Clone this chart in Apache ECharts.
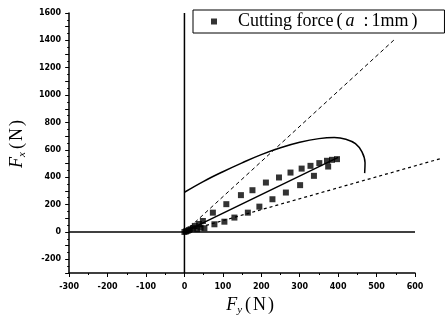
<!DOCTYPE html>
<html>
<head>
<meta charset="utf-8">
<script src="https://cdn.jsdelivr.net/npm/echarts@6/dist/echarts.min.js"></script>
<style>
html, body { margin: 0; padding: 0; background: #fff; }
#chart { width: 446px; height: 321px; }
</style>
</head>
<body>
<div id="chart"></div>
<script>
// Measured cutting force, a = 1 mm: Fy (N) against Fx (N)
const forceFy = [0, 4, 8, 12, 16, 22, 27, 33, 38, 42, 48, 52,
  74, 109, 147, 177, 212, 246, 276, 305, 328, 351, 371, 384, 397,
  78, 104, 130, 165, 195, 229, 264, 301, 337, 374];
const forceFx = [0, 4, 8, 14, 20, 28, 44, 20, 58, 32, 80, 27,
  141, 203, 269, 305, 361, 398, 434, 463, 483, 503, 520, 527, 532,
  56, 75, 105, 141, 185, 239, 288, 342, 410, 478];

// Fitted line through the measurements
const fitFy = [0, 400];
const fitFx = [0, 545];

// Upper limit line (dashed)
const upperFy = [0, 550];
const upperFx = [0, 1415];

// Lower limit line (dotted), continues past the end of the Fy axis
const lowerFy = [0, 665];
const lowerFx = [0, 535];

// Envelope curve
const envFy = [0, 50, 100, 150, 200, 250, 300, 350, 390, 420, 445, 462, 470, 469];
const envFx = [290, 370, 440, 505, 565, 615, 655, 682, 690, 678, 645, 585, 505, 430];

// Axis ranges
const fyRange = [-300, 600];
const fxRange = [-300, 1600];

const pairs = (xs, ys) => xs.map((x, i) => [x, ys[i]]);

const W = 446, gridLeft = 67, gridRight = 31, gridTop = 13, gridBottom = 48;
// second, wider grid with the same px-per-newton scale so the lower line can run on
const pxPerN = (W - gridLeft - gridRight) / (fyRange[1] - fyRange[0]);
const wideRight = W - gridLeft - (lowerFy[lowerFy.length - 1] - fyRange[0]) * pxPerN;

const serif = "'Liberation Serif', 'DejaVu Serif', serif";
const tickFont = { color: '#000', fontFamily: "'DejaVu Sans', sans-serif", fontWeight: 'bold', fontSize: 8 };

const titleRich = {
  f: { fontFamily: serif, fontStyle: 'italic', fontSize: 18, color: '#000', lineHeight: 22 },
  s: { fontFamily: serif, fontStyle: 'italic', fontSize: 11, color: '#000', verticalAlign: 'bottom', lineHeight: 22, padding: [0, 1, 0, 0] },
  p: { fontFamily: serif, fontSize: 18, color: '#000', lineHeight: 22, padding: [0, 2, 0, 2] },
  n: { fontFamily: serif, fontSize: 18, color: '#000', lineHeight: 22 }
};

const chart = echarts.init(document.getElementById('chart'), null, { renderer: 'canvas' });

chart.setOption({
  animation: false,
  backgroundColor: '#fff',
  grid: [
    { left: gridLeft, right: gridRight, top: gridTop, bottom: gridBottom },
    { left: gridLeft, right: wideRight, top: gridTop, bottom: gridBottom }
  ],
  legend: {
    data: ['Cutting force'],
    left: 193,
    top: 10,
    padding: [2, 27, 2, 18],
    borderColor: '#000',
    borderWidth: 1,
    borderRadius: 0,
    icon: 'rect',
    itemWidth: 6,
    itemHeight: 6,
    itemStyle: { color: '#000' },
    formatter: () => '{t0|Cutting force}{p|(}{i|a}{c|:}{t|1mm}{q|)}',
    textStyle: {
      color: '#000',
      fontFamily: serif,
      fontSize: 18,
      lineHeight: 19,
      rich: {
        t0: { fontFamily: serif, fontSize: 18, lineHeight: 19, color: '#000', padding: [0, 0, 0, 16] },
        t: { fontFamily: serif, fontSize: 18, lineHeight: 19, color: '#000' },
        p: { fontFamily: serif, fontSize: 18, lineHeight: 19, color: '#000', padding: [0, 3, 0, 3] },
        i: { fontFamily: serif, fontSize: 18, lineHeight: 19, fontStyle: 'italic', color: '#000', padding: [0, 2, 0, 0] },
        c: { fontFamily: serif, fontSize: 18, lineHeight: 19, color: '#000', padding: [0, 3, 0, 7] },
        q: { fontFamily: serif, fontSize: 18, lineHeight: 19, color: '#000', padding: [0, 0, 0, 3] }
      }
    }
  },
  xAxis: [
    {
      type: 'value',
      gridIndex: 0,
      min: fyRange[0],
      max: fyRange[1],
      interval: 100,
      axisLine: { onZero: false, lineStyle: { color: '#000', width: 1.5 } },
      axisTick: { show: true, length: 4, lineStyle: { color: '#000', width: 1 } },
      minorTick: { show: true, splitNumber: 2, length: 2, lineStyle: { color: '#000' } },
      splitLine: { show: false },
      axisLabel: Object.assign({ margin: 10 }, tickFont),
      name: '{f|F}{s|y}{p|(}{n|N}{p|)}',
      nameLocation: 'middle',
      nameGap: 21,
      nameTextStyle: { padding: [0, 0, 0, 18], rich: titleRich }
    },
    {
      type: 'value',
      gridIndex: 1,
      min: fyRange[0],
      max: lowerFy[lowerFy.length - 1],
      show: false
    }
  ],
  yAxis: [
    {
      type: 'value',
      gridIndex: 0,
      min: fxRange[0],
      max: fxRange[1],
      interval: 100,
      axisLine: { onZero: false, lineStyle: { color: '#000', width: 1.5 } },
      axisTick: { show: true, length: 4, lineStyle: { color: '#000', width: 1 } },
      minorTick: { show: true, splitNumber: 2, length: 2, lineStyle: { color: '#000' } },
      splitLine: { show: false },
      axisLabel: Object.assign({
        margin: 8,
        formatter: v => (v % 200 === 0 ? String(v) : '')
      }, tickFont),
      name: '{f|F}{s|x}{p|(}{n|N}{p|)}',
      nameLocation: 'middle',
      nameRotate: 90,
      nameGap: 29,
      nameTextStyle: { rich: titleRich }
    },
    {
      type: 'value',
      gridIndex: 1,
      min: fxRange[0],
      max: fxRange[1],
      show: false
    }
  ],
  series: [
    {
      // zero reference lines
      type: 'line', silent: true, symbol: 'none',
      data: [[0, fxRange[0]], [0, fxRange[1]]],
      lineStyle: { color: '#000', width: 1.5 }
    },
    {
      type: 'line', silent: true, symbol: 'none',
      data: [[fyRange[0], 0], [fyRange[1], 0]],
      lineStyle: { color: '#000', width: 1.5 }
    },
    {
      // upper limit
      type: 'line', silent: true, symbol: 'none',
      data: pairs(upperFy, upperFx),
      lineStyle: { color: '#000', width: 1, type: [4, 3] }
    },
    {
      // lower limit
      type: 'line', silent: true, symbol: 'none',
      xAxisIndex: 1, yAxisIndex: 1,
      data: pairs(lowerFy, lowerFx),
      lineStyle: { color: '#000', width: 1.2, type: [3, 3] }
    },
    {
      // envelope
      type: 'line', silent: true, symbol: 'none', smooth: 0.4,
      data: pairs(envFy, envFx),
      lineStyle: { color: '#000', width: 1.5 }
    },
    {
      // fitted line
      type: 'line', silent: true, symbol: 'none',
      data: pairs(fitFy, fitFx),
      lineStyle: { color: '#000', width: 1.5 }
    },
    {
      name: 'Cutting force',
      type: 'scatter',
      symbol: 'rect',
      symbolSize: 6,
      itemStyle: { color: '#000' },
      data: pairs(forceFy, forceFx)
    }
  ]
});
</script>
</body>
</html>
